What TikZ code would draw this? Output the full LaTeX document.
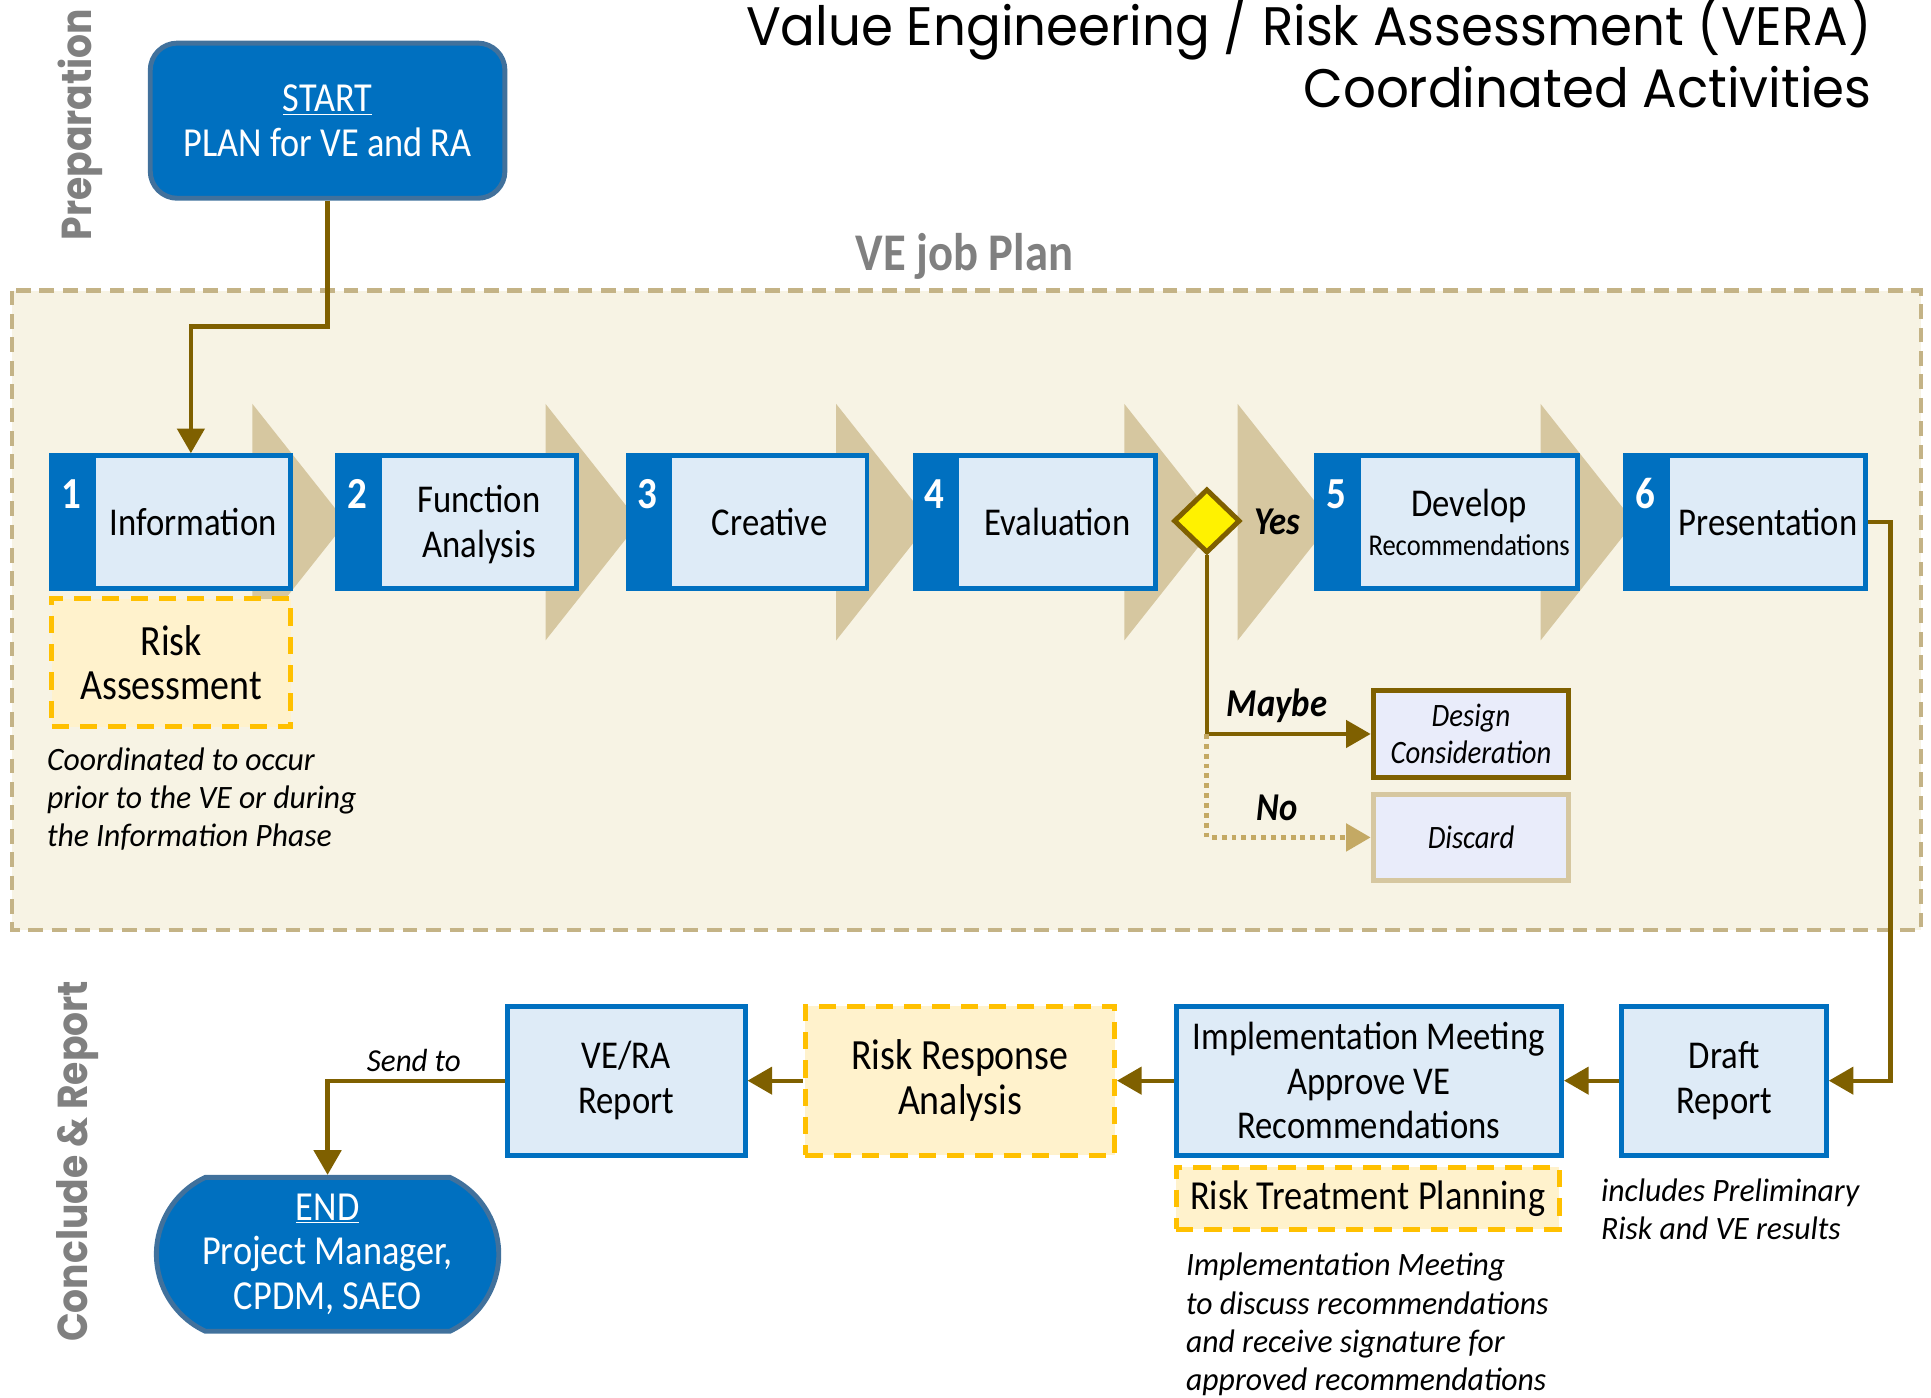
\documentclass[tikz,border=0pt]{standalone}
\usepackage{fontspec}
\setmainfont{Carlito}[FakeStretch=0.88]
\newfontfamily\notefont{Carlito}[FakeStretch=0.97]
\newfontfamily\titlefont{Poppins}[FakeStretch=0.95]
\newfontfamily\sidefont{Poppins}[FakeStretch=0.9]
\usetikzlibrary{arrows.meta,shapes.geometric,shapes.misc}

\definecolor{vblue}{HTML}{0070C0}
\definecolor{vlight}{HTML}{DEEBF7}
\definecolor{vbrown}{HTML}{7F6000}
\definecolor{vtan}{HTML}{D6C7A0}
\definecolor{vcream}{HTML}{F7F3E4}
\definecolor{vdash}{HTML}{C4B386}
\definecolor{vyfill}{HTML}{FFF2CC}
\definecolor{vydash}{HTML}{FFC000}
\definecolor{vlav}{HTML}{E9ECFA}
\definecolor{vsteel}{HTML}{41719C}
\definecolor{vgray}{HTML}{808080}
\definecolor{vdot}{HTML}{C4A964}

\tikzset{
  phasebox/.style={draw=vblue, fill=vlight, line width=4pt, inner sep=0pt, minimum height=108pt},
  repbox/.style={draw=vblue, fill=vlight, line width=4pt, inner sep=0pt, minimum height=121pt,
     font=\fontsize{32}{36}\selectfont, align=center},
  yelbox/.style={draw=vydash, fill=vyfill, line width=4pt, dash pattern=on 14pt off 9pt, inner sep=0pt,
     font=\fontsize{35}{36}\selectfont, align=center},
  numtxt/.style={text=white, font=\fontsize{36}{36}\selectfont\bfseries},
  btxt/.style={font=\fontsize{32}{36}\selectfont, align=center, text=black},
  conn/.style={draw=vbrown, line width=3.5pt},
  arr/.style={-{Triangle[width=22pt,length=20pt]}},
  dotconn/.style={draw=vdot, line width=4pt, dash pattern=on 4pt off 4pt},
  dotarr/.style={-{Triangle[width=22pt,length=20pt,fill=vdot,color=vdot]}},
  note/.style={font=\notefont\fontsize{26.5}{31}\selectfont\itshape, align=left, inner sep=0pt},
  choice/.style={font=\fontsize{32}{32}\selectfont\bfseries\itshape},
  chev/.style={fill=vtan},
  sidelbl/.style={rotate=90, text=vgray, font=\sidefont\fontsize{34}{34}\selectfont\bfseries},
  termbox/.style={fill=vblue, draw=vsteel, line width=4pt, text=white, align=center,
     font=\fontsize{33.5}{36}\selectfont},
  optbox/.style={fill=vlav, line width=4pt, minimum width=159pt, minimum height=70pt, inner sep=0pt,
     align=center, font=\fontsize{26.5}{30}\selectfont\itshape},
}

\begin{document}
\begin{tikzpicture}[x=1pt,y=-1pt]
\useasboundingbox (0,0) rectangle (1568,1135);

% titles
\node[anchor=base east, inner sep=0pt, font=\titlefont\fontsize{44}{44}\selectfont] (title1) at (1520,37) {Value Engineering / Risk Assessment (VERA)};
\node[anchor=base east, inner sep=0pt, font=\titlefont\fontsize{44}{44}\selectfont] (title2) at (1520,87) {Coordinated Activities};

\node[sidelbl] (prep) at (65,101) {Preparation};
\node[sidelbl] (concl) at (63,943) {Conclude \& Report};

% VE job plan region
\draw[draw=vdash, fill=vcream, line width=3.5pt, dash pattern=on 12pt off 7pt] (10,236) rectangle (1560,755);
\node[text=vgray, font=\fontsize{43}{43}\selectfont\bfseries] (vejp) at (783,208) {VE job Plan};

% chevrons
\foreach \L in {205,443,679,913,1005,1251}{
  \fill[chev] (\L,328) -- (\L+76,424) -- (\L,520) -- cycle;
}

% START
\node[termbox, rounded corners=22pt, minimum width=288pt, minimum height=126pt] (start) at (266,98)
  {\underline{START}\\PLAN for VE and RA};

% phase boxes
\node[phasebox, minimum width=194pt] (b1) at (139,424) {};
\node[phasebox, minimum width=194pt] (b2) at (371,424) {};
\node[phasebox, minimum width=194pt] (b3) at (607,424) {};
\node[phasebox, minimum width=195pt] (b4) at (840.5,424) {};
\node[phasebox, minimum width=212pt] (b5) at (1175,424) {};
\node[phasebox, minimum width=195pt] (b6) at (1417.5,424) {};
\foreach \b in {b1,b2,b3,b4,b5,b6}{
  \fill[vblue] (\b.north west) rectangle ([xshift=38pt]\b.south west);
}
\node[numtxt] (n1) at ([xshift=18pt,yshift=23pt]b1.west) {1};
\node[numtxt] (n2) at ([xshift=18pt,yshift=23pt]b2.west) {2};
\node[numtxt] (n3) at ([xshift=18pt,yshift=23pt]b3.west) {3};
\node[numtxt] (n4) at ([xshift=18pt,yshift=23pt]b4.west) {4};
\node[numtxt] (n5) at ([xshift=18pt,yshift=23pt]b5.west) {5};
\node[numtxt] (n6) at ([xshift=18pt,yshift=23pt]b6.west) {6};
\node[btxt] (t1) at ([xshift=18pt]b1.center) {Information};
\node[btxt] (t2) at ([xshift=18pt,yshift=-2pt]b2.center) {Function\\Analysis};
\node[btxt] (t3) at ([xshift=18pt]b3.center) {Creative};
\node[btxt] (t4) at ([xshift=18pt]b4.center) {Evaluation};
\node[btxt] (t5) at ([xshift=18pt]b5.center) {Develop\\[-4pt]{\fontsize{24.5}{26}\selectfont Recommendations}};
\node[btxt] (t6) at ([xshift=18pt]b6.center) {Presentation};

% risk assessment
\node[yelbox, minimum width=194pt, minimum height=104pt] (ra) at (139,538) {Risk\\Assessment};
\node[note, anchor=west] (note1) at (38,649) {Coordinated to occur\\prior to the VE or during\\the Information Phase};

% decision
\node[diamond, draw=vbrown, fill=yellow, line width=4pt, minimum width=54pt, minimum height=52pt, inner sep=0pt] (dia) at (980,423) {};
\node[choice] (yes) at (1037,424) {Yes};
\node[choice] (maybe) at (1037,573) {Maybe};
\node[choice] (no) at (1037,656) {No};
\node[optbox, draw=vbrown] (dc) at (1194.5,596) {Design\\Consideration};
\node[optbox, draw=vtan] (dis) at (1194.5,680) {Discard};

% bottom row
\node[repbox, minimum width=166pt] (draft) at (1400,877.5) {Draft\\Report};
\node[repbox, minimum width=313pt] (impl) at (1111.5,877.5) {Implementation Meeting\\Approve VE\\Recommendations};
\node[yelbox, minimum width=311pt, minimum height=50pt, font=\fontsize{33.5}{36}\selectfont] (rtp) at (1110.5,973) {Risk Treatment Planning};
\node[yelbox, minimum width=251pt, minimum height=121pt] (rra) at (779.5,877.5) {Risk Response\\Analysis};
\node[repbox, minimum width=193pt] (vera) at (508.5,877.5) {VE/RA\\Report};
\node[termbox, rounded rectangle, rounded rectangle arc length=130, minimum width=278pt, minimum height=125pt, inner sep=0pt] (endn) at (266,1018.5)
  {\underline{END}\\Project Manager,\\CPDM, SAEO};

\node[note, anchor=west] (note2) at (1300,982) {includes Preliminary\\Risk and VE results};
\node[note, anchor=west] (note3) at (963,1075.5) {Implementation Meeting\\to discuss recommendations\\and receive signature for\\approved recommendations};
\node[font=\notefont\fontsize{26}{26}\selectfont\itshape] (sendto) at (336,861) {Send to};

% connectors
\coordinate (j1) at (155,265);
\draw[conn,arr] (start.south) |- (j1) -- (j1 |- b1.north);
\draw[conn,arr] (dia.south) |- (dc.west);
\draw[dotconn,dotarr] (dia.south |- dc.west) |- (dis.west);
\draw[conn,arr] (b6.east) -- ++(18,0) |- (draft.east);
\draw[conn,arr] (draft.west) -- (impl.east);
\draw[conn,arr] (impl.west) -- (rra.east);
\draw[conn,arr] (rra.west) -- (vera.east);
\draw[conn,arr] (vera.west) -| (endn.north);
\end{tikzpicture}
\end{document}
